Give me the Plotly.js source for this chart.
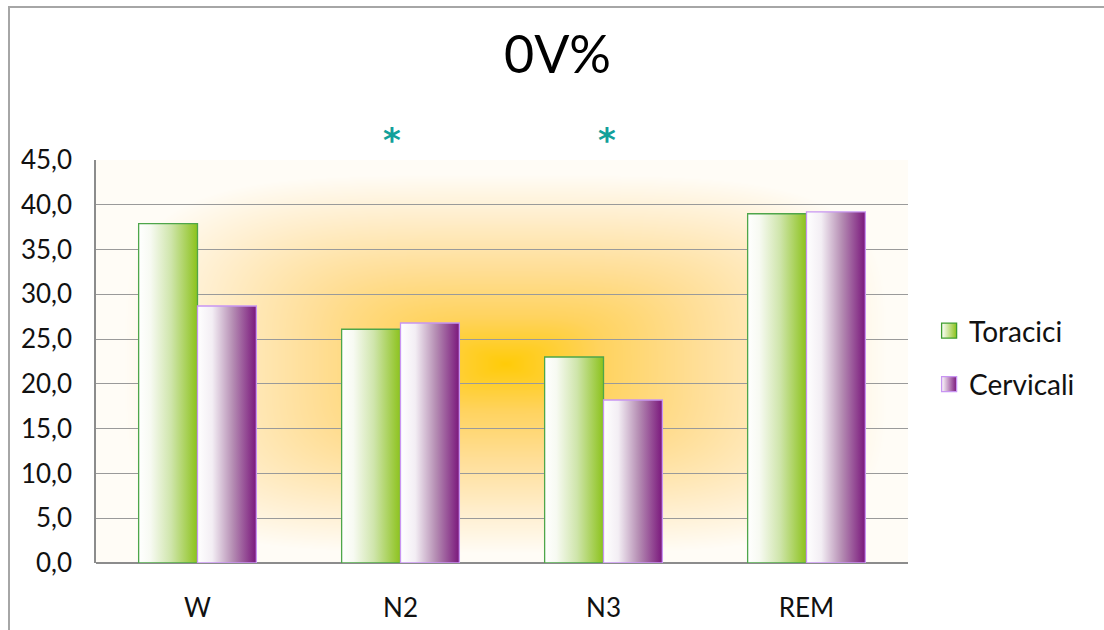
<!DOCTYPE html>
<html>
<head>
<meta charset="utf-8">
<script src="https://cdn.plot.ly/plotly-3.0.1.min.js"></script>
<style>
  html, body { margin: 0; padding: 0; background: #ffffff; }
  #wrap { position: relative; width: 1104px; height: 630px; overflow: hidden; }
  #chart { width: 1104px; height: 630px; }
  #frame {
    position: absolute; left: 8px; top: 6px; width: 1200px; height: 700px;
    border-left: 2px solid #a6a6a6; border-top: 2px solid #a6a6a6;
    pointer-events: none;
  }
</style>
</head>
<body>
<div id="wrap">
  <div id="chart"></div>
  <div id="frame"></div>
</div>
<script>
// Sleep stages and the two series (values in %)
const categories = ['W', 'N2', 'N3', 'REM'];
const toracici = [37.9, 26.1, 23.0, 39.0];
const cervicali = [28.7, 26.8, 18.2, 39.2];
const seriesNames = ['Toracici', 'Cervicali'];
// Stages marked as significant
const significant = ['N2', 'N3'];
const yTicks = [0, 5, 10, 15, 20, 25, 30, 35, 40, 45];

const FONT = 'Lato, "Open Sans", sans-serif';
const BAR_W = 0.29;

const greenScale = [[0, '#ffffff'], [0.2, '#f7faf2'], [0.55, '#cfe5ab'], [1, '#8cc21c']];
const purpleScale = [[0, '#ffffff'], [0.25, '#f3eef4'], [0.6, '#b58db3'], [1, '#7a177c']];

// Warm glow behind the bars, drawn once into a canvas and used as a background image
function glowImage(w, h) {
  const c = document.createElement('canvas');
  c.width = w; c.height = h;
  const ctx = c.getContext('2d');
  const img = ctx.createImageData(w, h);
  const cx = w * 0.504, cy = h * 0.505, rx = w * 0.47, ry = h * 0.47;
  const stops = [
    [0.00, [255, 203, 8]],
    [0.25, [255, 211, 95]],
    [0.50, [255, 222, 150]],
    [0.78, [255, 238, 205]],
    [1.00, [255, 252, 246]]
  ];
  for (let y = 0; y < h; y++) {
    for (let x = 0; x < w; x++) {
      const dx = Math.abs(x - cx) / rx, dy = Math.abs(y - cy) / ry;
      let t = Math.pow(Math.pow(dx, 4) + Math.pow(dy, 4), 1 / 4);
      if (t > 1) t = 1;
      let k = 0;
      while (k < stops.length - 2 && t > stops[k + 1][0]) k++;
      const a = stops[k], b = stops[k + 1];
      const f = (t - a[0]) / (b[0] - a[0]);
      const i = (y * w + x) * 4;
      for (let j = 0; j < 3; j++) img.data[i + j] = Math.round(a[1][j] + (b[1][j] - a[1][j]) * f);
      img.data[i + 3] = 255;
    }
  }
  ctx.putImageData(img, 0, 0);
  return c.toDataURL('image/png');
}

function barTrace(i, value, left, scale, lineColor, name) {
  const x0 = i + left, x1 = x0 + BAR_W;
  return {
    type: 'scatter', mode: 'lines',
    x: [x0, x0, x1, x1, x0],
    y: [0, value, value, 0, 0],
    fill: 'toself',
    fillgradient: { type: 'horizontal', colorscale: scale },
    line: { color: lineColor, width: 1.3 },
    name: name, legendgroup: name, showlegend: false,
    hoveron: 'fills',
    text: name + ' ' + categories[i] + ': ' + value.toFixed(1).replace('.', ','),
    hoverinfo: 'text'
  };
}

const traces = [];
categories.forEach((c, i) => {
  traces.push(barTrace(i, toracici[i], -BAR_W, greenScale, '#4ea64a', seriesNames[0]));
  traces.push(barTrace(i, cervicali[i], 0, purpleScale, '#c895f2', seriesNames[1]));
});

// Legend entries with the same gradient look
traces.push({
  type: 'scatter', mode: 'markers', x: [null], y: [null],
  name: seriesNames[0], legendgroup: seriesNames[0], showlegend: true,
  marker: { symbol: 'square', size: 15, color: '#ffffff',
            gradient: { type: 'horizontal', color: '#8cc21c' },
            line: { color: '#3f9e2f', width: 1.3 } }
});
traces.push({
  type: 'scatter', mode: 'markers', x: [null], y: [null],
  name: seriesNames[1], legendgroup: seriesNames[1], showlegend: true,
  marker: { symbol: 'square', size: 15, color: '#ffffff',
            gradient: { type: 'horizontal', color: '#7a177c' },
            line: { color: '#c895f2', width: 1.3 } }
});

// Significance marks above the plot area
const markShift = [-9, 3];
const annotations = significant.map((c, k) => ({
  x: categories.indexOf(c), xref: 'x', xshift: markShift[k],
  y: 1.05, yref: 'paper',
  text: '*', showarrow: false,
  font: { family: '"DejaVu Sans", sans-serif', size: 34, color: '#12a09a', weight: 'bold' },
  xanchor: 'center', yanchor: 'middle'
}));

const layout = {
  width: 1104, height: 630,
  margin: { l: 96, r: 196, t: 160, b: 67 },
  paper_bgcolor: 'rgba(0,0,0,0)',
  plot_bgcolor: 'rgba(0,0,0,0)',
  separators: ',.',
  font: { family: FONT, size: 26, color: '#111111' },
  title: {
    text: '0V%',
    font: { family: FONT, size: 52, color: '#000000' },
    x: 0.505, xanchor: 'center',
    y: 1 - 55 / 630, yref: 'container', yanchor: 'middle'
  },
  xaxis: {
    range: [-0.5, categories.length - 0.5],
    tickvals: categories.map((c, i) => i),
    ticktext: categories,
    showgrid: false, zeroline: false,
    showline: false,
    ticks: 'outside', ticklen: 22, tickcolor: 'rgba(0,0,0,0)',
    tickfont: { family: FONT, size: 26, color: '#111111' },
    fixedrange: true
  },
  yaxis: {
    range: [0, 45],
    tickvals: yTicks,
    tickformat: '.1f',
    showgrid: true, gridcolor: '#9a9a9a', gridwidth: 1,
    zeroline: true, zerolinecolor: '#8c8c8c', zerolinewidth: 1.5,
    showline: true, linecolor: '#8c8c8c', linewidth: 1.5,
    ticks: 'outside', ticklen: 17, tickcolor: 'rgba(0,0,0,0)',
    tickfont: { family: FONT, size: 26, color: '#111111' },
    fixedrange: true
  },
  legend: {
    x: 1.026, xanchor: 'left', y: 0.51, yanchor: 'middle',
    font: { family: FONT, size: 28, color: '#111111' },
    itemwidth: 30, tracegroupgap: 14,
    bgcolor: 'rgba(0,0,0,0)'
  },
  showlegend: true,
  annotations: annotations,
  images: [{
    source: glowImage(812, 403),
    xref: 'paper', yref: 'paper', x: 0, y: 1, sizex: 1, sizey: 1,
    xanchor: 'left', yanchor: 'top', sizing: 'stretch', layer: 'below'
  }]
};

Plotly.newPlot('chart', traces, layout, { displayModeBar: false });
</script>
</body>
</html>
